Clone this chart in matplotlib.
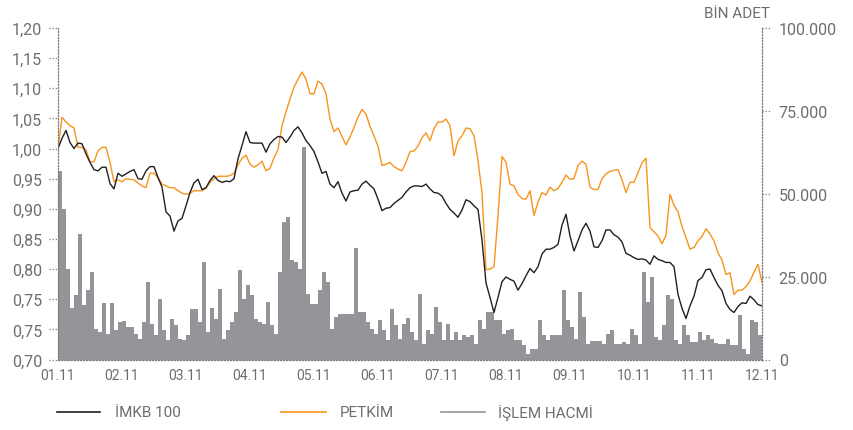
import numpy as np
import matplotlib.pyplot as plt
from matplotlib.lines import Line2D

plt.rcParams['font.family'] = ['Roboto', 'DejaVu Sans']

months = ["01.11", "02.11", "03.11", "04.11", "05.11", "06.11",
          "07.11", "08.11", "09.11", "10.11", "11.11", "12.11"]

# normalised index, 16 readings per month
imkb = [1.000, 1.017, 1.030, 1.010, 1.000, 1.009, 1.008, 0.991, 0.977, 0.965, 0.963, 0.969, 0.969, 0.942, 0.933,
        0.959, 0.954, 0.958, 0.962, 0.965, 0.950, 0.949, 0.963, 0.970, 0.970, 0.952, 0.936, 0.895, 0.888, 0.863,
        0.880, 0.884, 0.905, 0.927, 0.943, 0.949, 0.932, 0.935, 0.947, 0.955, 0.947, 0.944, 0.946, 0.945, 0.950,
        0.983, 1.005, 1.028, 1.010, 1.009, 1.009, 1.009, 0.994, 1.008, 1.015, 1.020, 1.019, 1.010, 1.019, 1.030,
        1.036, 1.026, 1.013, 1.005, 0.995, 0.978, 0.959, 0.962, 0.941, 0.935, 0.945, 0.926, 0.913, 0.928, 0.930,
        0.931, 0.941, 0.946, 0.939, 0.933, 0.916, 0.897, 0.901, 0.902, 0.909, 0.914, 0.919, 0.928, 0.935, 0.938,
        0.938, 0.937, 0.941, 0.933, 0.927, 0.926, 0.921, 0.909, 0.899, 0.893, 0.886, 0.898, 0.915, 0.912, 0.905,
        0.899, 0.848, 0.777, 0.753, 0.728, 0.753, 0.779, 0.787, 0.783, 0.780, 0.765, 0.776, 0.789, 0.801, 0.794,
        0.804, 0.825, 0.833, 0.833, 0.836, 0.841, 0.873, 0.891, 0.855, 0.830, 0.847, 0.865, 0.876, 0.863, 0.837,
        0.836, 0.847, 0.865, 0.865, 0.857, 0.853, 0.845, 0.826, 0.823, 0.819, 0.816, 0.817, 0.815, 0.808, 0.822,
        0.816, 0.814, 0.811, 0.811, 0.804, 0.758, 0.735, 0.718, 0.739, 0.755, 0.781, 0.786, 0.799, 0.800,
        0.786, 0.773, 0.764, 0.743, 0.733, 0.728, 0.738, 0.744, 0.743, 0.755, 0.749, 0.741, 0.739]

petkim = [1.000, 1.052, 1.044, 1.038, 1.034, 1.002, 1.002, 0.998, 0.978, 0.978, 0.996, 1.002, 1.002, 0.977, 0.945,
          0.948, 0.945, 0.950, 0.949, 0.948, 0.943, 0.938, 0.935, 0.959, 0.959, 0.952, 0.941, 0.938, 0.935, 0.935,
          0.930, 0.926, 0.924, 0.926, 0.930, 0.930, 0.930, 0.934, 0.944, 0.950, 0.954, 0.954, 0.954, 0.955, 0.959,
          0.973, 0.984, 0.989, 0.974, 0.969, 0.973, 0.979, 0.963, 0.967, 0.985, 0.998, 1.038, 1.061, 1.082, 1.102,
          1.115, 1.127, 1.115, 1.091, 1.091, 1.112, 1.107, 1.091, 1.049, 1.028, 1.034, 1.020, 1.006, 1.019, 1.035,
          1.052, 1.065, 1.057, 1.037, 1.021, 1.004, 0.972, 0.974, 0.977, 0.970, 0.966, 0.963, 0.977, 0.995, 0.996,
          1.004, 1.018, 1.026, 1.013, 1.033, 1.044, 1.044, 1.049, 1.038, 0.988, 1.013, 1.021, 1.034, 1.033, 1.021,
          0.980, 0.927, 0.799, 0.800, 0.804, 0.888, 0.987, 0.977, 0.941, 0.938, 0.924, 0.917, 0.916, 0.930, 0.889,
          0.911, 0.927, 0.923, 0.936, 0.930, 0.934, 0.944, 0.956, 0.949, 0.950, 0.972, 0.979, 0.974, 0.936, 0.932,
          0.932, 0.950, 0.958, 0.962, 0.964, 0.965, 0.948, 0.927, 0.944, 0.944, 0.960, 0.976, 0.984, 0.869, 0.862,
          0.855, 0.842, 0.856, 0.924, 0.906, 0.895, 0.871, 0.852, 0.833, 0.836, 0.847, 0.854, 0.867, 0.858,
          0.847, 0.827, 0.815, 0.791, 0.794, 0.758, 0.765, 0.765, 0.771, 0.780, 0.795, 0.808, 0.778]

# islem hacmi, 16 bars per month (bin adet, thousands)
hacim = [57.0, 45.5, 27.4, 15.4, 19.4, 38.0, 16.4, 20.9, 26.4, 9.3, 8.3, 16.9, 7.8, 16.9, 8.8, 11.4,
         11.5, 9.8, 9.8, 7.8, 6.3, 11.4, 23.4, 10.8, 7.3, 18.4, 8.8, 5.8, 12.3,
         10.3, 6.3, 5.8, 7.3, 15.1, 15.1, 11.4, 29.4, 8.3, 15.4, 12.3, 21.4, 6.3, 8.8, 11.4,
         14.4, 26.9, 18.4, 22.4, 19.4, 12.3, 11.2, 10.8, 17.4, 10.3, 7.8, 26.4, 41.5, 43.0, 29.9,
         29.4, 27.4, 64.1, 19.9, 16.6, 16.6, 20.9, 26.4, 23.4, 9.3, 12.9, 13.6, 13.6, 13.6, 13.6,
         33.6, 14.4, 14.4, 11.4, 9.3, 7.8, 11.8, 8.8, 5.8, 15.1, 10.3, 6.3, 10.8, 12.6, 8.3,
         5.8, 19.9, 4.8, 8.8, 7.8, 15.9, 11.4, 5.8, 10.8, 5.8, 8.3, 5.8, 7.3, 6.8, 7.3,
         4.8, 11.8, 9.3, 14.4, 14.4, 11.8, 11.8, 7.8, 8.8, 9.3, 5.8, 5.8, 4.3, 1.8, 3.3,
         3.3, 11.8, 7.5, 5.8, 7.5, 7.3, 7.3, 20.9, 11.8, 9.8, 6.1, 20.4, 12.9, 4.8, 5.5,
         5.5, 5.5, 4.8, 7.8, 8.8, 4.8, 4.8, 5.3, 4.8, 9.3, 7.3, 4.8, 26.4, 17.4, 24.9,
         6.8, 5.8, 10.3, 19.4, 18.4, 5.8, 4.8, 10.3, 7.5, 5.3, 5.3, 8.3, 5.8, 7.3,
         6.3, 5.1, 4.8, 4.8, 6.1, 4.3, 4.5, 13.3, 3.3, 1.8, 11.8, 11.4, 7.3]

left_ticks = [0.65, 0.70, 0.75, 0.80, 0.85, 0.90, 0.95, 1.00, 1.05, 1.10, 1.15, 1.20]
left_labels = ["0,70", "0,75", "0,75", "0,80", "0,85", "0,90",
               "0,95", "1,00", "1,05", "1,10", "1,15", "1,20"]
right_ticks = [0, 25, 50, 75, 100]
right_labels = ["0", "25.000", "50.000", "75.000", "100.000"]

TXT = '#6d6e71'
AXC = '#7a7b7e'
dots = (0, (1, 1.5))

fig = plt.figure(figsize=(8.54, 4.31), dpi=100)
ax = fig.add_axes([58 / 854, 1 - 360.5 / 431, 704 / 854, 331.5 / 431])
ax2 = ax.twinx()

x_line = np.arange(len(imkb))
edges = np.arange(len(hacim) + 1)

ax2.stairs(hacim, edges, fill=True, color='#939598', linewidth=0)
ax.plot(x_line, petkim, color='#f7941d', lw=1.0)
ax.plot(x_line, imkb, color='#231f20', lw=1.0)

ax.set_zorder(ax2.get_zorder() + 1)
ax.patch.set_visible(False)

ax.set_xlim(0, len(imkb) - 1)
ax.set_ylim(0.65, 1.20)
ax2.set_ylim(0, 100)

ax.set_xticks(np.arange(len(months)) * 16)
ax.set_xticklabels(months)
ax.set_yticks(left_ticks)
ax.set_yticklabels(left_labels)
ax2.set_yticks(right_ticks)
ax2.set_yticklabels(right_labels)

ax.tick_params(axis='x', length=0, pad=6, labelsize=10, labelcolor=TXT)
ax.tick_params(axis='y', length=0, pad=11.5, labelsize=11.5, labelcolor=TXT)
ax2.tick_params(axis='y', length=0, pad=12, labelsize=11.5, labelcolor=TXT)

for s in ['top', 'right']:
    ax.spines[s].set_visible(False)
for s in ['top', 'left', 'bottom']:
    ax2.spines[s].set_visible(False)
for sp in [ax.spines['left'], ax.spines['bottom'], ax2.spines['right']]:
    sp.set_linestyle(dots)
    sp.set_color(AXC)
    sp.set_linewidth(0.9)

# dotted tick marks
tl = 9 / 704
for v in left_ticks:
    ax.plot([-tl, 0], [v, v], transform=ax.get_yaxis_transform(), color=AXC,
            lw=0.9, ls=dots, clip_on=False)
for v in right_ticks:
    ax2.plot([1, 1 + tl], [v, v], transform=ax2.get_yaxis_transform(), color=AXC,
             lw=0.9, ls=dots, clip_on=False)

fig.text(770 / 854, 1 - 14 / 431, "BİN ADET", ha='right', va='center',
         fontsize=11, color=TXT)

# legend
ly = 1 - 413 / 431
items = [(57, 100, 115, '#231f20', "İMKB 100"),
         (281, 326, 340, '#f7941d', "PETKİM"),
         (441, 485, 498, '#939598', "İŞLEM HACMİ")]
for x0, x1, xt, c, lab in items:
    fig.add_artist(Line2D([x0 / 854, x1 / 854], [ly, ly], color=c, lw=1.2))
    fig.text(xt / 854, ly, lab, ha='left', va='center', fontsize=11, color=TXT)

fig.savefig("out.png", dpi=100)
